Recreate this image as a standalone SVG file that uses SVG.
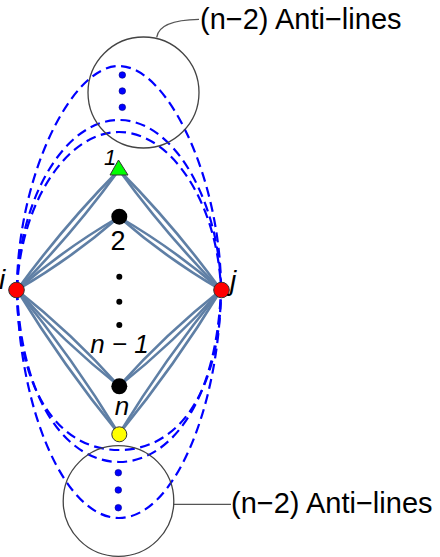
<svg xmlns="http://www.w3.org/2000/svg" width="440" height="557" viewBox="0 0 440 557">
<style>
.dash{fill:none;stroke:#0000ff;stroke-width:2.2;stroke-dasharray:10 5.5}
.edge{fill:none;stroke:#5f7fa5;stroke-width:2.6}
.ring{fill:none;stroke:#444;stroke-width:1.3}
.lead{fill:none;stroke:#555;stroke-width:1.3}
.lbl{font-family:"Liberation Sans",Arial,sans-serif;fill:#000}
.it{font-style:italic}
.bdot{fill:#0000ff;stroke:#00008b;stroke-width:0.6}
.node{stroke:#333;stroke-width:1}
</style>
<rect width="440" height="557" fill="#fff"/>
<g id="connectors">
<path class="dash" d="M17,290 C17,180 70,66 119,66 C168,66 221,180 221,290"/>
<path class="dash" d="M17,290 C18,205 62,120 119,120 C176,120 220,205 221,290"/>
<path class="dash" d="M17,290 C20,205 66,132 119,132 C172,132 218,205 221,290"/>
<path class="dash" d="M17,290 C19,410 65,518 119,518 C173,518 219,410 221,290"/>
<path class="dash" d="M17,290 C18,390 58,450 119,450 C180,450 220,390 221,290"/>
<path class="dash" d="M17,290 C22,410 72,462 119,462 C166,462 216,410 221,290"/>
<path class="edge" d="M17,290 Q72.6,233.9 119,170"/>
<path class="edge" d="M17,290 Q63.4,226.1 119,170"/>
<path class="edge" d="M17,290 Q71.5,258.4 119,217"/>
<path class="edge" d="M17,290 Q64.5,248.6 119,217"/>
<path class="edge" d="M17,290 Q63.9,342.4 119,386"/>
<path class="edge" d="M17,290 Q72.1,333.6 119,386"/>
<path class="edge" d="M17,290 Q63.1,365.5 119,434"/>
<path class="edge" d="M17,290 Q72.9,358.5 119,434"/>
<path class="edge" d="M221,290 Q165.4,233.9 119,170"/>
<path class="edge" d="M221,290 Q174.6,226.1 119,170"/>
<path class="edge" d="M221,290 Q166.5,258.4 119,217"/>
<path class="edge" d="M221,290 Q173.5,248.6 119,217"/>
<path class="edge" d="M221,290 Q174.1,342.4 119,386"/>
<path class="edge" d="M221,290 Q165.9,333.6 119,386"/>
<path class="edge" d="M221,290 Q174.9,365.5 119,434"/>
<path class="edge" d="M221,290 Q165.1,358.5 119,434"/>
<path class="lead" d="M156.7,37.3 Q159,20 199,19.3"/>
<path class="lead" d="M174,504.3 L231,504.3"/>
</g>
<g id="top-group">
<circle class="ring" cx="143.5" cy="92.5" r="55.5"/>
<circle class="bdot" cx="122.3" cy="75" r="3.3"/>
<circle class="bdot" cx="122.3" cy="91" r="3.3"/>
<circle class="bdot" cx="122.3" cy="107.3" r="3.3"/>
<text class="lbl" x="200" y="29" font-size="29">(n−2) Anti−lines</text>
</g>
<g id="bottom-group">
<circle class="ring" cx="118.5" cy="501" r="55.3"/>
<circle class="bdot" cx="118.3" cy="472.7" r="3.3"/>
<circle class="bdot" cx="118.3" cy="490" r="3.3"/>
<circle class="bdot" cx="118.3" cy="507.7" r="3.3"/>
<text class="lbl" x="231" y="513" font-size="29">(n−2) Anti−lines</text>
</g>
<g id="node-i">
<circle class="node" cx="16.5" cy="290" r="7.8" fill="#ff0000"/>
<text class="lbl it" x="-1" y="289" font-size="28">i</text>
</g>
<g id="node-j">
<circle class="node" cx="221.5" cy="290" r="7.8" fill="#ff0000"/>
<text class="lbl it" x="230" y="290" font-size="28">j</text>
</g>
<g id="node-1">
<polygon class="node" points="118.5,160 110,175 128,175" fill="#00ff00"/>
<text class="lbl it" x="110" y="165" font-size="22" text-anchor="middle">1</text>
</g>
<g id="node-2">
<circle cx="119.3" cy="216.7" r="8" fill="#000"/>
<text class="lbl" x="118" y="250" font-size="27" text-anchor="middle">2</text>
</g>
<g id="ellipsis">
<circle cx="119.3" cy="276.7" r="3" fill="#000"/>
<circle cx="119.3" cy="301.7" r="3" fill="#000"/>
<circle cx="119.3" cy="325" r="3" fill="#000"/>
</g>
<g id="node-n-1">
<circle cx="119.3" cy="386.3" r="8" fill="#000"/>
<text class="lbl it" x="119.5" y="353" font-size="26" text-anchor="middle">n − 1</text>
</g>
<g id="node-n">
<circle class="node" cx="119.3" cy="434.3" r="7.5" fill="#ffff00"/>
<text class="lbl it" x="122" y="415" font-size="26" text-anchor="middle">n</text>
</g>
</svg>
